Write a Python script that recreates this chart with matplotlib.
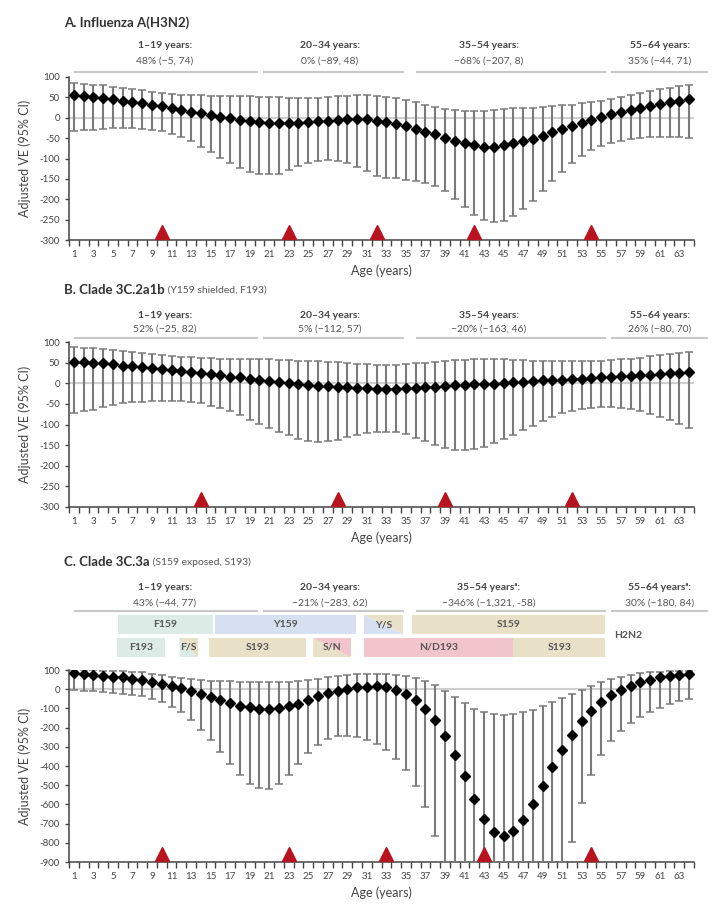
import numpy as np
import matplotlib.pyplot as plt
from matplotlib.transforms import offset_copy
from matplotlib.patches import Rectangle, Polygon

plt.rcParams['font.family'] = ['Lato', 'DejaVu Sans']
plt.rcParams['axes.unicode_minus'] = False

ages = np.arange(1, 65)

# Panel A: Influenza A(H3N2)
a_ve = [55, 53, 51, 49, 45, 42, 39, 35, 32, 28, 24, 19, 15, 11, 7, 3, -1, -5, -8, -10,
        -12, -13, -13, -12, -10, -9, -7, -5, -4, -3, -4, -7, -10, -15, -20, -27, -35, -41, -49, -57,
        -63, -68, -71, -71, -68, -63, -57, -52, -44, -36, -28, -20, -13, -6, 2, 8, 15, 20, 25, 30,
        34, 38, 42, 46]
a_hi = [86, 84, 81, 80, 76, 73, 70, 67, 63, 61, 58, 57, 56, 55, 54, 54, 53, 53, 53, 52,
        51, 50, 49, 49, 49, 49, 51, 53, 54, 55, 55, 53, 51, 49, 43, 39, 31, 26, 21, 18,
        17, 17, 17, 19, 21, 23, 24, 25, 27, 29, 31, 32, 35, 38, 42, 47, 52, 56, 61, 66,
        70, 74, 78, 80]
a_lo = [-33, -31, -29, -27, -25, -24, -25, -27, -29, -33, -39, -47, -58, -71, -85, -98, -111, -124, -133, -138,
        -139, -137, -129, -119, -110, -105, -104, -106, -112, -120, -131, -143, -147, -149, -153, -155, -159, -168, -180, -199,
        -219, -239, -251, -257, -254, -242, -224, -204, -180, -156, -132, -111, -94, -80, -69, -61, -56, -52, -49, -48,
        -47, -47, -48, -49]
a_tri = [10, 23, 32, 42, 54]
a_groups = ['48% (−5, 74)', '0% (−89, 48)', '−68% (−207, 8)', '35% (−44, 71)']

# Panel B: clade 3C.2a1b
b_ve = [52, 51, 50, 48, 46, 43, 42, 39, 37, 34, 33, 30, 28, 25, 23, 20, 16, 14, 11, 8,
        6, 3, 1, -2, -4, -6, -7, -9, -10, -11, -12, -14, -13, -13, -12, -11, -10, -8, -7, -5,
        -4, -3, -2, -1, 1, 2, 4, 6, 7, 8, 9, 10, 11, 12, 14, 15, 17, 18, 20, 21,
        22, 24, 25, 27]
b_hi = [88, 86, 85, 83, 81, 79, 76, 74, 71, 68, 66, 64, 63, 62, 61, 60, 60, 59, 59, 58,
        58, 57, 56, 55, 54, 53, 52, 51, 49, 47, 46, 45, 45, 45, 46, 48, 50, 52, 54, 56,
        57, 58, 58, 58, 58, 57, 56, 55, 54, 54, 53, 53, 53, 54, 55, 56, 58, 60, 62, 65,
        68, 71, 73, 75]
b_lo = [-72, -68, -64, -58, -53, -49, -46, -45, -43, -42, -42, -42, -45, -48, -54, -59, -68, -77, -88, -98,
        -108, -117, -126, -134, -139, -142, -141, -137, -130, -125, -121, -117, -117, -119, -124, -132, -141, -149, -156, -161,
        -161, -159, -154, -146, -136, -125, -114, -103, -92, -83, -73, -68, -63, -59, -58, -58, -59, -63, -68, -74,
        -82, -90, -98, -109]
b_tri = [14, 28, 39, 52]
b_groups = ['52% (−25, 82)', '5% (−112, 57)', '−20% (−163, 46)', '26% (−80, 70)']

# Panel C: clade 3C.3a
c_ve = [83, 80, 75, 71, 66, 61, 54, 47, 38, 28, 17, 5, -9, -24, -40, -57, -71, -85, -95, -102,
        -104, -99, -88, -75, -55, -36, -21, -9, 2, 9, 14, 16, 10, -5, -26, -57, -102, -163, -243, -341,
        -454, -572, -676, -742, -763, -740, -681, -598, -503, -407, -315, -236, -168, -113, -69, -31, -5, 19, 35, 49,
        61, 69, 75, 80]
c_hi = [100, 100, 98, 97, 96, 94, 90, 87, 80, 73, 66, 59, 54, 49, 45, 43, 42, 38, 35, 35,
        35, 35, 36, 42, 49, 55, 62, 69, 75, 78, 80, 78, 78, 76, 71, 59, 42, 21, -7, -40,
        -73, -101, -120, -130, -135, -130, -120, -107, -90, -69, -47, -26, -3, 19, 36, 52, 66, 76, 83, 88,
        92, 94, 95, 97]
c_lo = [-3, -7, -10, -14, -19, -24, -31, -38, -52, -69, -92, -121, -163, -211, -263, -328, -390, -449, -492, -516,
        -518, -496, -447, -390, -331, -289, -260, -246, -243, -250, -263, -286, -319, -364, -423, -506, -612, -766, -900, -900,
        -900, -900, -900, -900, -900, -900, -900, -900, -900, -900, -900, -795, -593, -449, -345, -272, -217, -177, -146, -118,
        -97, -78, -62, -49]
c_tri = [10, 23, 33, 43, 54]
c_groups = ['43% (−44, 77)', '−21% (−283, 62)', '−346% (−1,321, -58)', '30% (−180, 84)']

group_names = ['1–19 years:', '20–34 years:', '35–54 years:', '55–64 years:']
c_group_names = ['1–19 years:', '20–34 years:', '35–54 yearsᵃ:', '55–64 yearsᵃ:']
group_text_x = [10.3, 27.2, 43.5, 61.0]
group_line = [(1.1, 19.7), (20.5, 34.7), (36.1, 55.4), (56.1, 65.8)]

# residue boxes in panel C: (start, end, row, label, colour1, colour2)
c_boxes = [
    (5.5, 15.2, 1, 'F159', '#dcebe5', None),
    (15.4, 29.9, 1, 'Y159', '#d6e0f0', None),
    (30.7, 34.7, 1, 'Y/S', '#d6e0f0', '#e9e0c8'),
    (35.6, 55.4, 1, 'S159', '#e9e0c8', None),
    (5.4, 10.3, 2, 'F193', '#dcebe5', None),
    (11.8, 13.7, 2, 'F/S', '#dcebe5', '#e9e0c8'),
    (14.8, 24.8, 2, 'S193', '#e9e0c8', None),
    (25.5, 29.4, 2, 'S/N', '#e9e0c8', '#f2c5cc'),
    (30.7, 46.0, 2, 'N/D193', '#f2c5cc', None),
    (46.0, 55.4, 2, 'S193', '#e9e0c8', None),
]

W, H = 725, 917
fig = plt.figure(figsize=(W / 100, H / 100), dpi=100)
TXT = '#444444'


def add_axes(top_px, bottom_px):
    return fig.add_axes([69 / W, 1 - bottom_px / H, 625 / W, (bottom_px - top_px) / H])


def above(ax, px):
    # x in data, y = top of axes shifted up by px pixels
    return offset_copy(ax.get_xaxis_transform(), fig=fig, y=px * 0.72, units='points')


def panel(ax, ve, lo, hi, tri, ymin, ystep):
    ve = np.array(ve)
    lo = np.array(lo)
    hi = np.array(hi)
    ax.axhline(0, color='#cfcfcf', lw=1.5, zorder=0)
    _, caps, bars = ax.errorbar(ages, ve, yerr=[ve - lo, hi - ve], fmt='D', color='black',
                                ms=5.5, ecolor='#7a7a7a', elinewidth=1.5, capsize=2.8,
                                capthick=1.1, zorder=3)
    for c in caps:
        c.set_color('#333333')
    ax.set_xlim(0.5, 64.5)
    ax.set_ylim(ymin, 100)
    ax.set_yticks(np.arange(ymin, 101, ystep))
    ax.set_xticks(np.arange(1, 65, 2))
    ax.set_xticks(np.arange(0.5, 65, 1), minor=True)
    ax.tick_params(axis='x', which='major', length=0, labelsize=7, colors=TXT, pad=7)
    ax.tick_params(axis='x', which='minor', length=4, color='#444444', width=1)
    ax.tick_params(axis='y', length=3, labelsize=7, colors=TXT, color='#444444', width=1)
    for s in ['top', 'right']:
        ax.spines[s].set_visible(False)
    for s in ['left', 'bottom']:
        ax.spines[s].set_color('#444444')
        ax.spines[s].set_linewidth(1.1)
    ax.set_ylabel('Adjusted VE (95% CI)', fontsize=9, color=TXT, labelpad=6)
    ax.set_xlabel('Age (years)', fontsize=9, color=TXT, labelpad=4)
    tr = offset_copy(ax.get_xaxis_transform(), fig=fig, y=5.5, units='points')
    ax.plot(tri, [0] * len(tri), '^', color='#b8141f', ms=10, transform=tr,
            clip_on=False, zorder=4)


def headers(ax, names, cis, title, subtitle, t_px, b_px, c_px, l_px):
    t = ax.text(0.0, 1, title, transform=above(ax, t_px), fontsize=9.5, fontweight='bold',
                color='#333333', va='center', ha='left')
    if subtitle:
        ax.annotate(subtitle, xy=(1, 0.12), xycoords=t, fontsize=7.5, color='#555555',
                    va='bottom', ha='left')
    for x, n, ci, (x0, x1) in zip(group_text_x, names, cis, group_line):
        ax.text(x, 1, n, transform=above(ax, b_px), fontsize=7.5, fontweight='bold',
                color='#444444', ha='center', va='center')
        ax.text(x, 1, ci, transform=above(ax, c_px), fontsize=7.5, color='#555555',
                ha='center', va='center')
        ax.plot([x0, x1], [1, 1], color='#c8c8c8', lw=1.5, transform=above(ax, l_px),
                clip_on=False)


axA = add_axes(77, 240)
panel(axA, a_ve, a_lo, a_hi, a_tri, -300, 50)
headers(axA, group_names, a_groups, 'A. Influenza A(H3N2)', None, 54, 31, 16, 5)

axB = add_axes(342, 507)
panel(axB, b_ve, b_lo, b_hi, b_tri, -300, 50)
headers(axB, group_names, b_groups, 'B. Clade 3C.2a1b', ' (Y159 shielded, F193)', 52, 27, 13, 4)

axC = add_axes(670, 862)
panel(axC, c_ve, c_lo, c_hi, c_tri, -900, 100)
headers(axC, c_group_names, c_groups, 'C. Clade 3C.3a', ' (S159 exposed, S193)', 108, 83, 67, 59)

# residue boxes above panel C
hC = 192
rows = {1: (36, 55), 2: (13, 32)}
trC = axC.get_xaxis_transform()
for x0, x1, row, lab, c1, c2 in c_boxes:
    y0 = 1 + rows[row][0] / hC
    y1 = 1 + rows[row][1] / hC
    if c2 is None:
        axC.add_patch(Rectangle((x0, y0), x1 - x0, y1 - y0, facecolor=c1, edgecolor='none',
                                transform=trC, clip_on=False))
    else:
        axC.add_patch(Polygon([(x0, y0), (x1, y0), (x0, y1)], facecolor=c1, edgecolor='none',
                              transform=trC, clip_on=False))
        axC.add_patch(Polygon([(x1, y0), (x1, y1), (x0, y1)], facecolor=c2, edgecolor='none',
                              transform=trC, clip_on=False))
    axC.text((x0 + x1) / 2, (y0 + y1) / 2, lab, transform=trC, fontsize=7.5,
             fontweight='bold', color='#555555', ha='center', va='center')
axC.text(56.3, 1 + 34 / hC, 'H2N2', transform=trC, fontsize=7.5, fontweight='bold',
         color='#555555', ha='left', va='center')

fig.savefig('out.png', dpi=100)
